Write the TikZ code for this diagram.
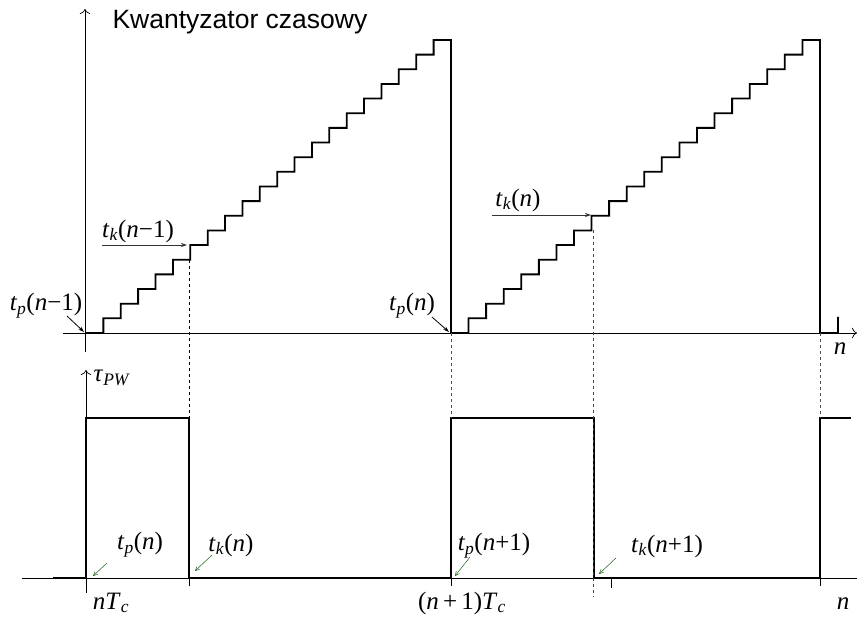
\documentclass[tikz,border=0pt]{standalone}
\usepackage{fontspec}
\setmainfont{Liberation Serif}
\setsansfont{Liberation Sans}
\usetikzlibrary{arrows.meta}
\definecolor{darkgreen}{RGB}{25,100,25}
\newcommand{\tsub}[2]{\textit{#1}\textsubscript{\textit{#2}}}

\begin{document}
\begin{tikzpicture}[x=1pt,y=-1pt,>=Stealth,
    stair/.style={line width=1.8pt},
    pulse/.style={line width=2.2pt},
    axis/.style={line width=0.7pt},
    guide/.style={dashed,line width=0.6pt,gray!60!black},
    lbl/.style={font=\fontsize{25}{28}\selectfont,inner sep=1pt},
    pin/.style={-{Stealth[length=6pt,width=4pt]},line width=0.8pt},
    gpin/.style={-{Straight Barb[length=4pt,width=4pt]},line width=0.5pt,darkgreen}]
        \useasboundingbox (0,0) rectangle (857,620);
        % axes, upper plot
        \coordinate (ya0) at (85,352);
        \coordinate (ya1) at (85,9);
        \coordinate (xa0) at (63,333);
        \coordinate (xa1) at (857,333);
        \draw[axis,-{To[length=5pt]}] (ya0) -- (ya1);
        \draw[axis,-{To[length=5pt]}] (xa0) -- (xa1);
        \node[font=\sffamily\fontsize{26.5}{30}\selectfont,anchor=west] (title) at (109,22) {Kwantyzator czasowy};
        % staircases
        \draw[stair] (86,333) \foreach \i in {1,...,20} { -- ({86+\i*17.38},{333-(\i-1)*14.65}) -- ({86+\i*17.38},{333-\i*14.65}) } -- (451,40) -- (451,333);
        \draw[stair] (451,333) \foreach \i in {1,...,20} { -- ({451+\i*17.57},{333-(\i-1)*14.65}) -- ({451+\i*17.57},{333-\i*14.65}) } -- (820,40) -- (820,333) -- (838,333) -- (838,317);
        % axes, lower plot
        \coordinate (yb0) at (86,593);
        \coordinate (yb1) at (86,370);
        \coordinate (xb0) at (22,578);
        \coordinate (xb1) at (857,578);
        \draw[axis] (xb0) -- (xb1);
        \draw[axis,-{To[length=5pt]}] (yb0) -- (yb1);
        \foreach \x in {189,451,820} \draw[axis] (\x,578) -- (\x,586);
        \draw[axis] (611,578) -- (611,588);
        % pulse train
        \draw[pulse] (53,578) -- (86,578) -- (86,418) -- (189,418) -- (189,578) -- (451,578) -- (451,418) -- (594,418) -- (594,578) -- (820,578) -- (820,418) -- (851,418);
        % guides
        \coordinate (g1a) at (189,260);
        \coordinate (g1b) at (189,418);
        \coordinate (g2a) at (451,333);
        \coordinate (g2b) at (451,418);
        \coordinate (g3a) at (593,230);
        \coordinate (g3b) at (593,597);
        \coordinate (g4a) at (820,333);
        \coordinate (g4b) at (820,418);
        \draw[guide,black] (g1a) -- (g1b);
        \draw[guide] (g2a) -- (g2b);
        \draw[guide,darkgreen] (g3a) -- (g3b);
        \draw[guide] (g4a) -- (g4b);
        % labels, upper plot
        \node[lbl] (tpA) at (46,306) {\tsub{t}{p}(\textit{n}−1)};
        \node[lbl] (tkA) at (138,231) {\tsub{t}{k}(\textit{n}−1)};
        \node[lbl] (tpB) at (412,306) {\tsub{t}{p}(\textit{n})};
        \node[lbl] (tkB) at (518,200) {\tsub{t}{k}(\textit{n})};
        \node[lbl] (nA) at (840,349) {\textit{n}};
        \coordinate (tpAs) at (67,316);
        \coordinate (tpAe) at (84,332);
        \coordinate (tpBs) at (432,317);
        \coordinate (tpBe) at (449,332);
        \coordinate (tkAs) at (102,245);
        \coordinate (tkAe) at (187,245);
        \coordinate (tkBs) at (492,215);
        \coordinate (tkBe) at (591,215);
        \draw[pin] (tpAs) -- (tpAe);
        \draw[pin] (tpBs) -- (tpBe);
        \draw[pin,gray!40!black] (tkAs) -- (tkAe);
        \draw[pin,gray!40!black] (tkBs) -- (tkBe);
        % labels, lower plot
        \node[lbl] (tau) at (112,378) {\tsub{τ}{PW}};
        \node[lbl] (nTc) at (111,603) {\textit{nT}\textsubscript{\textit{c}}};
        \node[lbl] (n1Tc) at (462,603) {(\textit{n}\,+\,1)\tsub{T}{c}};
        \node[lbl] (nB) at (843,604) {\textit{n}};
        \node[lbl] (tpC) at (140,545) {\tsub{t}{p}(\textit{n})};
        \node[lbl] (tkC) at (231,545) {\tsub{t}{k}(\textit{n})};
        \node[lbl] (tpD) at (494,546) {\tsub{t}{p}(\textit{n}+1)};
        \node[lbl] (tkD) at (667,546) {\tsub{t}{k}(\textit{n}+1)};
        \coordinate (tpCs) at (107,563);
        \coordinate (tpCe) at (93,576);
        \coordinate (tkCs) at (212,555);
        \coordinate (tkCe) at (195,571);
        \coordinate (tpDs) at (470,557);
        \coordinate (tpDe) at (455,576);
        \coordinate (tkDs) at (616,558);
        \coordinate (tkDe) at (599,574);
        \draw[gpin] (tpCs) -- (tpCe);
        \draw[gpin] (tkCs) -- (tkCe);
        \draw[gpin] (tpDs) -- (tpDe);
        \draw[gpin] (tkDs) -- (tkDe);
      \end{tikzpicture}
\end{document}
